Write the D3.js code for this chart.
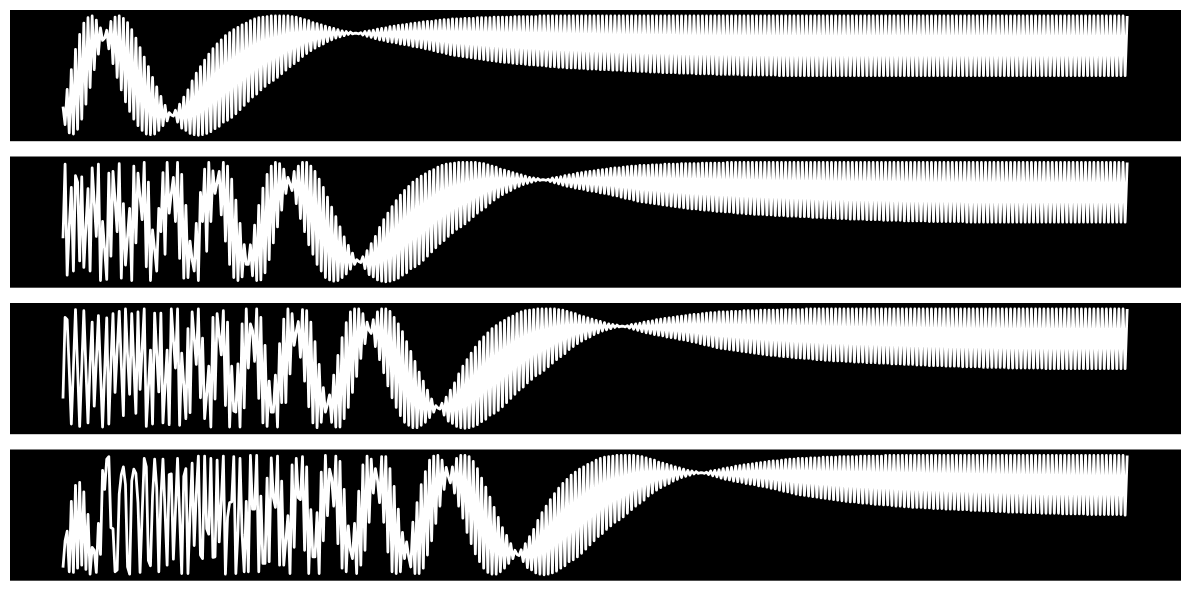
<!DOCTYPE html>
<html><head><meta charset="utf-8">
<script src="https://cdn.jsdelivr.net/npm/d3@7"></script>
<style>html,body{margin:0;padding:0;background:#fff}svg{display:block}</style>
</head><body><div id="chart"></div>
<script>
const sampleCount = 512;
const head1 = [-52,-82,-23,-96,10,-98,44,-90,69,-73,88,-48,97,-20,100,10,93,36,80,59,63,76,45,91,20,98,-3,100,-24,96,-44,89,-60,77,-73,63,-84,47,-92,31,-98,15,-99,-3,-98,-19,-92,-35,-84,-50,-76,-62];
const head2 = [-27,97,-89,-8,58,-82,78,67,-65,76,-76,-8,56,-82,91,34,-24,97,-98,1,-46,-96,82,-57,85,37,-16,98,-94,31,-72,-24,23,-98,94,-35,82,42,4,100,-75,67,-98,-13,-46,-82,23,-16,83,-54,100,15,48,75,1,100,-61,80,-94,28,-93,-32,-63,-82,-2,-98,50,1,89,-49,100,1,86,48,67,85,12,100,-32,94,-71,72,-93,37,-98,-2,-92,-38,-71,-71,-38,-90,-5,-98,28,-97,57,-85,80,-63,94,-35,100,-8,98,20,89,48,75,64,53,85,31,94,6,100,-16,100,-38,94,-54,85,-71,72,-82,58,-93,42,-97,25,-99,9,-98,-8,-93,-25,-87,-39,-79,-52,-71,-63];
const head3 = [-50,86,82,-2,-93,1,99,1,-97,1,97,1,-91,7,78,-63,12,89,-5,-98,-5,85,-93,7,92,-40,29,96,7,-79,100,23,-43,92,7,-75,95,-35,34,100,-97,-32,31,-93,93,26,-39,93,-91,-29,31,-94,100,48,1,100,-95,26,-27,-84,67,-74,95,51,7,100,-49,51,-84,-43,4,-98,86,-51,92,56,23,97,-62,78,-98,4,-71,-73,8,-98,75,-66,100,1,75,64,12,100,-50,86,-91,39,-97,-21,-73,-73,-11,-98,42,-57,83,-57,100,-9,92,39,62,79,19,99,-21,97,-64,78,-91,45,-99,7,-90,-32,-73,-60,-44,-90,-11,-98,22,-98,52,-84,77,-65,95,-40,100,-13,100,17,92,42,78,64,59,82,37,95,15,100,-7,100,-29,96,-49,86,-65,75,-79,62,-90,45,-95,29,-99,12,-99,-6,-95,-21,-90,-36,-82,-51,-73,-62];
const head4 = [-88,-43,-27,-95,23,-96,50,-89,55,-84,39,-91,1,-99,-54,-59,-96,-14,-66,75,43,94,98,-21,-23,-95,-92,35,68,81,51,-87,-99,57,77,70,21,-96,1,95,81,-76,-85,32,94,46,-95,29,94,7,-84,68,69,-74,7,95,-1,-98,65,78,-98,1,87,-51,35,99,-67,-73,99,-23,-32,95,-71,-70,92,-45,23,99,-99,-4,21,22,98,-98,-29,95,-32,-95,23,-95,100,10,10,100,-95,32,-81,-81,62,-78,96,29,13,99,-84,57,-84,-43,-1,-98,84,-54,95,29,26,98,-59,81,-98,9,-70,-70,4,-98,72,-43,100,-1,77,62,15,99,-48,90,-89,43,-95,-18,-59,-73,-14,-98,40,-84,84,-59,99,-12,94,37,78,59,21,98,-12,98,-62,78,-95,48,-98,10,-95,-29,-73,-45,-70,-87,-12,-98,21,-98,51,-89,73,-67,92,-43,99,-14,100,15,92,43,80,65,54,81,37,95,15,100,-5,100,-29,98,-48,90,-65,78,-78,62,-89,47,-96,30,-99,13,-99,-4,-95,-21,-89,-34,-81,-48,-73,-59];
const tail = [
-66,-68,-58,-78,-48,-88,-36,-92,-24,-97,-9,-99,4,-100,15,-99,26,-97,36,-94,45,-89,53,-85,60,-78,67,-75,72,-70,77,-64,81,-57,85,-50,88,-43,92,-36,95,-31,97,-24,98,-18,99,-12,100,-8,100,-3,100,3,100,9,100,15,99,20,98,25,96,32,94,37,92,42,89,46,87,50,85,53,83,57,81,60,79,63,77,65,75,67,74,69,73,70,71,71,
70,72,68,74,66,75,64,76,62,78,60,79,59,80,57,82,56,83,55,84,53,85,52,86,51,87,49,88,48,89,47,90,45,91,44,91,42,92,40,93,39,94,37,94,35,95,34,95,33,95,32,96,31,96,30,96,29,97,28,97,27,97,26,97,25,98,24,98,23,98,22,98,22,98,21,99,20,99,20,99,19,99,18,99,18,99,17,100,17,100,16,100,15,100,15,100,
14,100,14,100,13,100,13,100,13,100,12,100,12,100,11,100,11,100,11,100,10,100,10,100,10,100,9,100,9,100,9,100,8,100,8,100,8,100,7,100,7,100,7,100,6,100,6,100,6,100,5,100,5,100,5,100,5,100,4,100,4,100,4,100,4,100,3,100,3,100,3,100,3,100,3,100,2,100,2,100,2,100,2,100,2,100,2,100,1,100,1,100,1,100,1,100,1,100,1,100,1,100,1,100,1,100,
0,100,0,100,0,100,0,100,0,100,0,100,0,100,0,100,0,100,0,100,0,100,0,100,0,100,0,100,0,100,0,100,0,100,0,100,0,100,0,100,
0,100,0,100,0,100,0,100,0,100,0,100,0,100,0,100,0,100,0,100,0,100,0,100,0,100,0,100,0,100,0,100,0,100,0,100,0,100,0,100,
0,100,0,100,0,100,0,100,0,100,0,100,0,100,0,100,0,100,0,100,0,100,0,100,0,100,0,100,0,100,0,100,0,100,0,100,0,100,0,100,
0,100,0,100,0,100,0,100,0,100,0,100,0,100,0,100,0,100,0,100,0,100,0,100,0,100,0,100,0,100,0,100,0,100,0,100,0,100,0,100,
0,100,0,100,0,100,0,100];
const heads = [head1, head2, head3, head4];

const width = 1189, height = 590;
const svg = d3.select("#chart").append("svg").attr("width", width).attr("height", height);
svg.append("rect").attr("width", width).attr("height", height).attr("fill", "#fff");

const panelLeft = 10, panelRight = 1181, panelH = 131.2;
const panelY = d3.scalePoint().domain(d3.range(4)).range([10, 449.5]);
const padY = panelH / 1.1 * 0.05;
const x = d3.scaleLinear().domain([0, sampleCount - 1]).range([63, 1127.2]);

heads.forEach((head, p) => {
  const top = panelY(p);
  const series = head.concat(tail).slice(0, sampleCount);
  const y = d3.scaleLinear().domain([-100, 100]).range([top + panelH - padY, top + padY]);
  const g = svg.append("g");
  g.append("clipPath").attr("id", "c" + p).append("rect")
    .attr("x", panelLeft).attr("y", top).attr("width", panelRight - panelLeft).attr("height", panelH);
  g.append("rect").attr("x", panelLeft).attr("y", top)
    .attr("width", panelRight - panelLeft).attr("height", panelH).attr("fill", "#000");
  const line = d3.line().x((d, i) => x(i)).y(d => y(d));
  g.append("path").datum(series).attr("d", line).attr("fill", "none")
    .attr("stroke", "#fff").attr("stroke-width", 2.78).attr("stroke-linejoin", "round")
    .attr("clip-path", "url(#c" + p + ")");
});
</script></body></html>
